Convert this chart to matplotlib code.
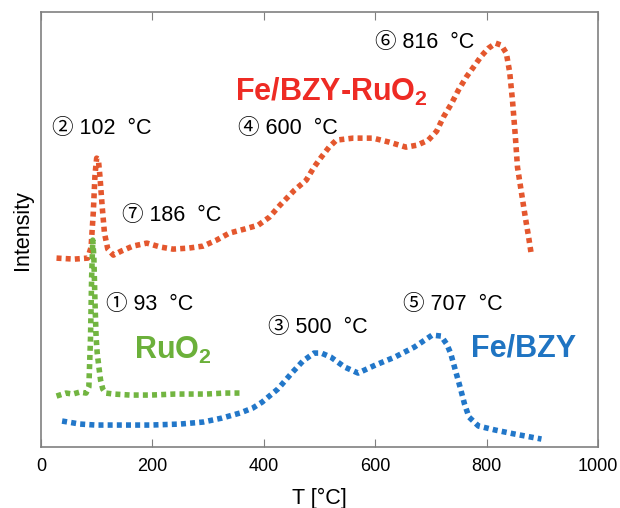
import matplotlib.pyplot as plt

plt.rcParams['font.family'] = ['Liberation Sans', 'Noto Sans CJK JP', 'DejaVu Sans']

# Fe/BZY-RuO2 (traced, arbitrary intensity units)
t_fe_ru = [28, 60, 84, 90, 94, 97, 100, 103, 106, 110, 114, 120, 130, 144, 165, 190, 215,
           237, 265, 291, 315, 338, 365, 390, 410, 429, 455, 476, 490, 503, 517, 530, 560,
           596, 625, 655, 675, 695, 710, 722, 736, 749, 763, 776, 790, 803, 816, 826, 835,
           841, 846, 851, 855, 862, 869, 875, 880]
i_fe_ru = [189, 188, 189, 200, 235, 272, 289, 288, 270, 240, 214, 198, 192, 196, 201, 204, 200,
           198, 199, 201, 207, 214, 218, 222, 230, 242, 257, 267, 280, 290, 300, 307, 309,
           309, 305, 300, 302, 307, 316, 330, 343, 357, 370, 380, 391, 399, 404, 402, 394,
           375, 347, 312, 280, 255, 230, 210, 192]

# RuO2
t_ruo2 = [28, 45, 57, 70, 81, 86, 89, 91, 93, 95, 97, 99, 101, 104, 107, 111, 116, 131, 160,
          197, 240, 297, 330, 360]
i_ruo2 = [51, 54, 53, 55, 54, 60, 110, 170, 207, 190, 145, 110, 94, 80, 67, 58, 54, 53, 52,
          52, 53, 53, 54, 54]

# Fe/BZY
t_fe = [38, 70, 98, 150, 197, 250, 291, 325, 357, 380, 397, 425, 450, 470, 490, 503, 520,
        545, 569, 600, 635, 670, 702, 718, 728, 735, 743, 752, 760, 768, 785, 815, 850, 898]
i_fe = [26, 23, 22, 22, 22, 23, 25, 29, 34, 39, 45, 58, 74, 86, 94, 94, 90,
        80, 74, 82, 90, 100, 112, 111, 103, 94, 78, 60, 43, 30, 21, 17, 13, 8]

# peak annotations: (text, T, intensity)
peak_labels = ['② 102 °C', '⑦ 186 °C', '④ 600 °C', '⑥ 816 °C',
               '① 93 °C', '③ 500 °C', '⑤ 707 °C']
peak_t = [20, 145, 354, 600, 117, 408, 650]
peak_i = [319, 232, 319, 405, 143, 120, 143]

x_ticks = [0, 200, 400, 600, 800, 1000]

c_fe_ru = '#e4572e'
c_ruo2 = '#72b541'
c_fe = '#2277c9'

fig = plt.figure(figsize=(6.2, 5.08), dpi=100)
ax = fig.add_axes([0.066, 0.12, 0.899, 0.856])

dots = (0, (0.9, 0.75))
ax.plot(t_fe_ru, i_fe_ru, color=c_fe_ru, lw=4, ls=dots)
ax.plot(t_ruo2, i_ruo2, color=c_ruo2, lw=4, ls=dots)
ax.plot(t_fe, i_fe, color=c_fe, lw=4, ls=dots)

for txt, tx, ty in zip(peak_labels, peak_t, peak_i):
    ax.text(tx, ty, txt.replace(' °C', '  °C'), fontsize=15.5, va='center', ha='left',
            color='black')

ax.text(348, 355, 'Fe/BZY-RuO$_\\mathregular{2}$', fontsize=22, fontweight='bold',
        color='#ee2b24', va='center')
ax.text(167, 97, 'RuO$_\\mathregular{2}$', fontsize=22, fontweight='bold',
        color='#6bb03a', va='center')
ax.text(772, 99, 'Fe/BZY', fontsize=22, fontweight='bold',
        color='#1f74c2', va='center')

ax.set_xlim(0, 1000)
ax.set_ylim(0, 435)
ax.set_xticks(x_ticks)
ax.set_yticks([])
ax.tick_params(axis='x', direction='in', length=6, color='#808080',
               top=True, labelsize=13, pad=8)
for s in ax.spines.values():
    s.set_color('#808080')
    s.set_linewidth(1.2)

ax.set_xlabel('T [°C]', fontsize=15.5, labelpad=9)
ax.set_ylabel('Intensity', fontsize=15.5, labelpad=6)

fig.savefig('out.png', dpi=100)
